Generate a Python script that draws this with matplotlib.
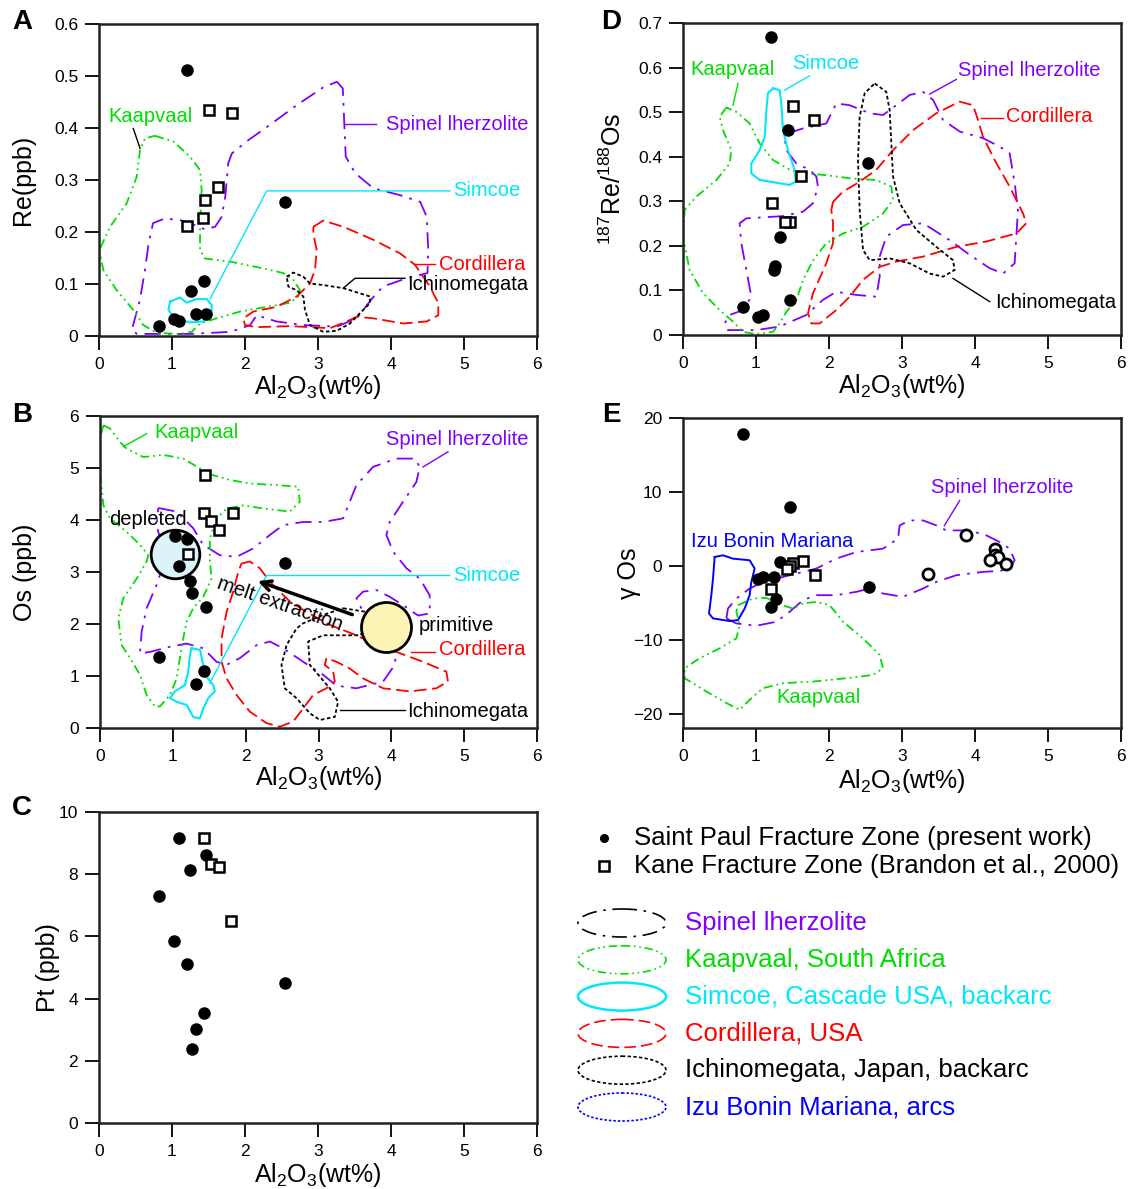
import matplotlib
matplotlib.use('Agg')
import matplotlib.pyplot as plt
from matplotlib.patches import Ellipse

plt.rcParams['font.family'] = ['Liberation Sans', 'DejaVu Sans']
plt.rcParams['mathtext.fontset'] = 'custom'
plt.rcParams['mathtext.rm'] = 'Liberation Sans'
plt.rcParams['mathtext.it'] = 'Liberation Sans:italic'
plt.rcParams['mathtext.bf'] = 'Liberation Sans:bold'

PURPLE = '#8000ff'
GREEN = '#00dd00'
CYAN = '#00e8f8'
RED = '#ff0000'
BLUE = '#0000ff'

LS_SPINEL = (0, (9, 4, 1.5, 4))
LS_KAAP = (0, (5, 2.2, 1, 2.2, 1, 2.2))
LS_CORD = (0, (7, 3))
LS_ICHI = (0, (2, 1.4))

# ---------------- panel A : Re (ppb) vs Al2O3
a_stp_al = [1.205, 2.55, 1.44, 1.26, 1.33, 1.47, 1.03, 1.10, 0.82]
a_stp_re = [0.511, 0.258, 0.106, 0.087, 0.042, 0.042, 0.032, 0.028, 0.020]
a_kane_al = [1.51, 1.82, 1.63, 1.45, 1.43, 1.21]
a_kane_re = [0.435, 0.428, 0.287, 0.262, 0.226, 0.212]

a_spinel = [(3.26, 0.489), (3.34, 0.476), (3.36, 0.409), (3.38, 0.345), (3.51, 0.313),
            (3.76, 0.284), (4.12, 0.271), (4.40, 0.258), (4.49, 0.229), (4.51, 0.165),
            (4.50, 0.121), (4.21, 0.111), (3.89, 0.095), (3.74, 0.072), (3.53, 0.034),
            (3.26, 0.018), (2.80, 0.021), (2.43, 0.028), (2.16, 0.040), (2.07, 0.021),
            (1.80, 0.008), (1.25, 0.004), (0.52, 0.004), (0.45, 0.012), (0.56, 0.069),
            (0.63, 0.127), (0.68, 0.178), (0.74, 0.217), (0.90, 0.226), (1.11, 0.223),
            (1.34, 0.212), (1.45, 0.205), (1.59, 0.210), (1.68, 0.229), (1.73, 0.268),
            (1.77, 0.332), (1.82, 0.351), (2.02, 0.374), (2.34, 0.406), (2.71, 0.444),
            (3.07, 0.478)]
a_kaapvaal = [(0.767, 0.385), (1.018, 0.374), (1.247, 0.345), (1.384, 0.319), (1.406, 0.281),
              (1.384, 0.210), (1.384, 0.165), (1.452, 0.149), (1.795, 0.143), (2.251, 0.130),
              (2.525, 0.121), (2.662, 0.108), (2.753, 0.088), (2.731, 0.076), (2.616, 0.064),
              (2.297, 0.056), (1.932, 0.047), (1.612, 0.034), (1.384, 0.024), (1.269, 0.008),
              (1.110, 0.004), (0.790, 0.006), (0.607, 0.021), (0.470, 0.050), (0.242, 0.088),
              (0.059, 0.127), (0.005, 0.165), (0.151, 0.210), (0.379, 0.255), (0.516, 0.306),
              (0.562, 0.358), (0.630, 0.380)]
a_simcoe = [(0.973, 0.066), (1.110, 0.074), (1.201, 0.064), (1.338, 0.071), (1.475, 0.071),
            (1.543, 0.060), (1.543, 0.040), (1.429, 0.028), (1.247, 0.026), (1.041, 0.034),
            (0.950, 0.050)]
a_cordillera = [(2.936, 0.210), (3.073, 0.222), (3.347, 0.210), (3.758, 0.185), (4.123, 0.159),
                (4.329, 0.137), (4.534, 0.095), (4.648, 0.063), (4.648, 0.040), (4.489, 0.028),
                (4.169, 0.024), (3.758, 0.034), (3.530, 0.037), (3.393, 0.028), (3.164, 0.015),
                (2.616, 0.019), (2.160, 0.017), (2.000, 0.021), (1.977, 0.034), (2.114, 0.047),
                (2.434, 0.056), (2.708, 0.076), (2.890, 0.101), (2.959, 0.127), (2.982, 0.165),
                (2.936, 0.197)]
a_ichino = [(2.571, 0.114), (2.662, 0.122), (2.799, 0.114), (2.890, 0.101), (3.073, 0.098),
            (3.347, 0.092), (3.712, 0.076), (3.712, 0.063), (3.575, 0.044), (3.438, 0.024),
            (3.256, 0.010), (3.073, 0.008), (2.890, 0.021), (2.822, 0.050), (2.799, 0.076),
            (2.708, 0.088), (2.594, 0.095)]

# ---------------- panel D : 187Re/188Os vs Al2O3
d_stp_al = [1.20, 1.44, 2.54, 1.33, 1.26, 1.25, 1.47, 0.82, 1.10, 1.03]
d_stp_ratio = [0.670, 0.460, 0.387, 0.220, 0.156, 0.147, 0.079, 0.064, 0.045, 0.040]
d_kane_al = [1.51, 1.80, 1.62, 1.22, 1.46, 1.40]
d_kane_ratio = [0.514, 0.482, 0.357, 0.297, 0.254, 0.254]

d_spinel = [(1.438, 0.453), (1.644, 0.464), (1.963, 0.475), (2.032, 0.498), (2.100, 0.520),
            (2.283, 0.516), (2.557, 0.498), (2.740, 0.494), (2.922, 0.516), (3.105, 0.539),
            (3.288, 0.546), (3.425, 0.528), (3.562, 0.483), (3.790, 0.457), (4.110, 0.442),
            (4.338, 0.423), (4.475, 0.408), (4.543, 0.341), (4.589, 0.281), (4.566, 0.221),
            (4.543, 0.161), (4.384, 0.138), (4.201, 0.150), (3.927, 0.180), (3.653, 0.213),
            (3.288, 0.251), (3.014, 0.247), (2.785, 0.221), (2.694, 0.176), (2.694, 0.131),
            (2.648, 0.086), (2.374, 0.090), (2.100, 0.097), (1.918, 0.079), (1.689, 0.045),
            (1.324, 0.019), (1.005, 0.011), (0.616, 0.011), (0.571, 0.026), (0.639, 0.045),
            (0.822, 0.056), (0.936, 0.086), (0.868, 0.146), (0.799, 0.206), (0.776, 0.251),
            (0.868, 0.262), (1.370, 0.267), (1.644, 0.277), (1.781, 0.296), (1.849, 0.333),
            (1.826, 0.356), (1.735, 0.371), (1.553, 0.385), (1.416, 0.415), (1.393, 0.442)]
d_kaapvaal = [(0.594, 0.511), (0.502, 0.490), (0.548, 0.460), (0.662, 0.415), (0.639, 0.385),
              (0.457, 0.348), (0.183, 0.311), (0.023, 0.281), (0.0, 0.221), (0.091, 0.146),
              (0.274, 0.094), (0.502, 0.056), (0.685, 0.030), (0.822, 0.007), (1.005, 0.002),
              (1.233, 0.007), (1.324, 0.026), (1.416, 0.052), (1.553, 0.079), (1.644, 0.123),
              (1.781, 0.168), (1.963, 0.206), (2.192, 0.228), (2.466, 0.243), (2.740, 0.273),
              (2.877, 0.303), (2.854, 0.333), (2.648, 0.348), (2.283, 0.352), (1.963, 0.359),
              (1.644, 0.363), (1.461, 0.371), (1.233, 0.393), (1.050, 0.430), (0.913, 0.475),
              (0.731, 0.501)]
d_simcoe = [(1.233, 0.554), (1.324, 0.550), (1.347, 0.520), (1.370, 0.460), (1.438, 0.415),
            (1.530, 0.370), (1.543, 0.344), (1.461, 0.337), (1.279, 0.342), (1.050, 0.348),
            (0.936, 0.363), (0.936, 0.385), (1.050, 0.415), (1.119, 0.445), (1.142, 0.505),
            (1.164, 0.543)]
d_cordillera = [(2.055, 0.299), (2.192, 0.322), (2.420, 0.344), (2.648, 0.371), (2.877, 0.415),
                (3.151, 0.460), (3.470, 0.498), (3.790, 0.524), (3.973, 0.516), (4.041, 0.483),
                (4.110, 0.445), (4.269, 0.393), (4.475, 0.333), (4.658, 0.273), (4.703, 0.251),
                (4.566, 0.228), (4.155, 0.210), (3.744, 0.198), (3.288, 0.176), (2.922, 0.165),
                (2.694, 0.153), (2.466, 0.124), (2.283, 0.086), (2.100, 0.056), (1.872, 0.026),
                (1.758, 0.026), (1.712, 0.049), (1.781, 0.094), (1.963, 0.161), (2.055, 0.206),
                (2.055, 0.251), (2.032, 0.281)]
d_ichino = [(2.626, 0.565), (2.785, 0.546), (2.831, 0.505), (2.854, 0.430), (2.877, 0.356),
            (2.968, 0.296), (3.196, 0.236), (3.470, 0.198), (3.699, 0.168), (3.721, 0.146),
            (3.562, 0.131), (3.379, 0.138), (3.105, 0.161), (2.831, 0.172), (2.557, 0.168),
            (2.466, 0.191), (2.420, 0.281), (2.397, 0.393), (2.420, 0.490), (2.489, 0.543)]

# ---------------- panel B : Os (ppb) vs Al2O3
b_stp_al = [1.03, 1.19, 1.08, 1.23, 1.26, 1.45, 2.54, 0.805, 1.43, 1.32]
b_stp_os = [3.70, 3.65, 3.12, 2.84, 2.60, 2.33, 3.19, 1.37, 1.11, 0.85]
b_kane_al = [1.445, 1.43, 1.82, 1.52, 1.64, 1.21]
b_kane_os = [4.87, 4.15, 4.15, 3.99, 3.81, 3.35]
b_depleted = (1.03, 3.35)
b_primitive = (3.93, 1.95)

b_kaapvaal = [(0.046, 5.83), (0.137, 5.77), (0.274, 5.51), (0.366, 5.38), (0.594, 5.22),
              (0.869, 5.26), (1.143, 5.19), (1.372, 5.00), (1.555, 4.87), (1.783, 4.78),
              (2.058, 4.71), (2.423, 4.68), (2.721, 4.65), (2.743, 4.36), (2.606, 4.17),
              (2.240, 4.23), (1.966, 4.29), (1.738, 4.23), (1.600, 4.04), (1.509, 3.65),
              (1.509, 3.21), (1.532, 2.88), (1.417, 2.53), (1.280, 2.31), (1.189, 2.05),
              (1.143, 1.73), (1.097, 1.35), (1.052, 0.96), (0.960, 0.64), (0.823, 0.42),
              (0.754, 0.42), (0.640, 0.64), (0.549, 1.03), (0.412, 1.35), (0.297, 1.60),
              (0.251, 2.12), (0.320, 2.50), (0.503, 2.88), (0.640, 3.21), (0.663, 3.33),
              (0.549, 3.53), (0.366, 3.78), (0.137, 4.04), (0.046, 4.29), (0.0, 4.94),
              (0.0, 5.58)]
b_spinel = [(0.800, 4.24), (1.052, 4.17), (1.280, 3.85), (1.417, 3.53), (1.646, 3.33),
            (1.875, 3.30), (2.103, 3.46), (2.332, 3.72), (2.515, 3.91), (2.789, 3.97),
            (3.064, 3.97), (3.338, 4.04), (3.429, 4.36), (3.521, 4.68), (3.749, 5.03),
            (4.069, 5.19), (4.321, 5.19), (4.390, 5.03), (4.344, 4.74), (4.161, 4.36),
            (3.978, 3.97), (3.932, 3.72), (4.024, 3.40), (4.207, 3.08), (4.390, 2.88),
            (4.527, 2.56), (4.527, 2.21), (4.367, 2.17), (4.161, 2.37), (3.978, 2.53),
            (3.795, 2.66), (3.612, 2.63), (3.521, 2.50), (3.612, 2.24), (3.749, 1.99),
            (3.887, 1.73), (4.069, 1.54), (4.047, 1.22), (3.887, 0.90), (3.521, 0.77),
            (3.246, 0.82), (3.064, 1.03), (2.789, 1.28), (2.515, 1.54), (2.332, 1.67),
            (2.149, 1.60), (1.920, 1.35), (1.738, 1.22), (1.600, 1.28), (1.417, 1.54),
            (1.189, 1.63), (0.960, 1.57), (0.686, 1.47), (0.549, 1.44), (0.572, 1.86),
            (0.640, 2.31), (0.777, 2.76), (0.869, 3.14), (0.846, 3.53), (0.777, 3.91)]
b_simcoe = [(1.257, 1.54), (1.372, 1.51), (1.417, 1.22), (1.440, 1.03), (1.555, 0.83),
            (1.577, 0.71), (1.486, 0.58), (1.417, 0.38), (1.372, 0.19), (1.280, 0.22),
            (1.189, 0.45), (1.052, 0.51), (0.960, 0.58), (1.029, 0.71), (1.166, 0.83),
            (1.212, 1.09), (1.235, 1.41)]
b_cordillera = [(1.943, 3.17), (2.058, 3.21), (2.195, 3.08), (2.332, 2.82), (2.469, 2.63),
                (2.606, 2.44), (2.835, 2.24), (3.155, 1.99), (3.521, 1.79), (3.749, 1.63),
                (4.069, 1.47), (4.435, 1.28), (4.755, 1.09), (4.778, 0.90), (4.618, 0.77),
                (4.252, 0.71), (3.887, 0.77), (3.612, 0.96), (3.429, 1.15), (3.246, 1.28),
                (3.109, 1.35), (3.086, 1.22), (3.201, 1.09), (3.224, 0.90), (3.109, 0.77),
                (2.926, 0.64), (2.789, 0.38), (2.652, 0.13), (2.469, 0.03), (2.286, 0.10),
                (2.058, 0.32), (1.875, 0.64), (1.738, 0.96), (1.669, 1.28), (1.669, 1.73),
                (1.738, 2.24), (1.829, 2.63), (1.898, 3.01)]
b_ichino = [(3.338, 2.31), (3.658, 2.24), (3.727, 1.96), (3.566, 1.79), (3.064, 1.79),
            (2.858, 1.67), (2.881, 1.22), (3.155, 0.77), (3.269, 0.51), (3.224, 0.22),
            (3.018, 0.16), (2.881, 0.29), (2.698, 0.58), (2.538, 0.77), (2.492, 1.22),
            (2.561, 1.60), (2.698, 1.92), (2.789, 2.02), (3.064, 2.18)]

# ---------------- panel E : gamma Os vs Al2O3
e_stp_al = [0.82, 1.47, 1.33, 1.25, 1.10, 1.03, 1.27, 1.20, 2.55]
e_stp_gos = [17.8, 7.95, 0.54, -1.6, -1.5, -1.85, -4.45, -5.6, -2.9]
e_kane_al = [1.64, 1.51, 1.47, 1.43, 1.81, 1.205]
e_kane_gos = [0.67, 0.3, -0.1, -0.5, -1.3, -3.2]
e_lherz_al = [3.88, 3.35, 4.27, 4.27, 4.32, 4.21, 4.42]
e_lherz_gos = [4.2, -1.2, 2.2, 1.5, 1.1, 0.7, 0.2]

e_spinel = [(0.594, -7.14), (0.731, -7.82), (1.005, -8.13), (1.279, -7.59), (1.461, -6.24),
            (1.644, -4.67), (1.826, -4.00), (2.100, -4.00), (2.374, -3.55), (2.557, -3.10),
            (2.740, -3.77), (3.014, -4.22), (3.288, -3.10), (3.470, -2.20), (3.744, -1.30),
            (4.110, -0.85), (4.338, -0.72), (4.475, -0.40), (4.543, 0.72), (4.475, 2.29),
            (4.338, 3.19), (4.110, 4.31), (3.836, 4.76), (3.607, 4.76), (3.470, 5.44),
            (3.288, 6.11), (3.105, 6.11), (2.968, 5.44), (2.945, 3.64), (2.740, 2.29),
            (2.374, 1.84), (2.100, 0.94), (1.826, -0.40), (1.553, -1.08), (1.279, -1.75),
            (1.050, -2.43), (0.913, -3.10), (0.731, -4.45), (0.616, -5.80)]
e_kaapvaal = [(0.753, -5.35), (0.959, -4.45), (1.142, -4.36), (1.324, -5.26), (1.507, -5.80),
              (1.644, -5.12), (1.826, -4.90), (2.009, -5.35), (2.192, -7.59), (2.466, -9.84),
              (2.694, -12.08), (2.740, -13.88), (2.603, -14.78), (2.237, -15.23), (1.781, -15.68),
              (1.370, -15.90), (1.096, -16.58), (0.913, -18.15), (0.776, -19.50), (0.639, -18.82),
              (0.320, -17.03), (0.023, -15.23), (0.023, -13.88), (0.228, -12.53), (0.502, -11.19),
              (0.731, -9.84), (0.776, -8.04), (0.731, -6.24)]
e_izu = [(0.434, 1.17), (0.548, 1.39), (0.685, 0.94), (0.913, 0.72), (0.982, -0.40),
         (0.936, -2.20), (0.913, -4.00), (0.845, -5.80), (0.753, -7.37), (0.639, -7.50),
         (0.411, -7.14), (0.356, -6.47), (0.388, -4.00), (0.411, -1.75)]

# ---------------- panel C : Pt (ppb) vs Al2O3
c_stp_al = [1.10, 1.47, 1.25, 0.82, 1.03, 1.20, 2.55, 1.44, 1.33, 1.27]
c_stp_pt = [9.14, 8.61, 8.13, 7.29, 5.85, 5.10, 4.51, 3.55, 3.04, 2.39]
c_kane_al = [1.44, 1.54, 1.64, 1.81]
c_kane_pt = [9.14, 8.32, 8.24, 6.49]

x_ticks = [0, 1, 2, 3, 4, 5, 6]
a_yticks = [0, 0.1, 0.2, 0.3, 0.4, 0.5, 0.6]
a_yticklabels = ['0', '0.1', '0.2', '0.3', '0.4', '0.5', '0.6']
d_yticks = [0, 0.1, 0.2, 0.3, 0.4, 0.5, 0.6, 0.7]
d_yticklabels = ['0', '0.1', '0.2', '0.3', '0.4', '0.5', '0.6', '0.7']
b_yticks = [0, 1, 2, 3, 4, 5, 6]
e_yticks = [-20, -10, 0, 10, 20]
c_yticks = [0, 2, 4, 6, 8, 10]

legend_names = ['Spinel lherzolite', 'Kaapvaal, South Africa', 'Simcoe, Cascade USA, backarc',
                'Cordillera, USA', 'Ichinomegata, Japan, backarc', 'Izu Bonin Mariana, arcs']
legend_text_colors = [PURPLE, GREEN, CYAN, RED, 'black', BLUE]
legend_line_colors = ['black', GREEN, CYAN, RED, 'black', BLUE]
legend_styles = [LS_SPINEL, LS_KAAP, '-', LS_CORD, LS_ICHI, (0, (1.5, 1.2))]

W, H = 1130, 1189
fig = plt.figure(figsize=(W / 100, H / 100), dpi=100)

XLABEL = r'Al$_2$O$_3$(wt%)'
TXT = 14.5


def make_axes(left, top, right, bottom):
    ax = fig.add_axes([left / W, 1 - bottom / H, (right - left) / W, (bottom - top) / H])
    for s in ax.spines.values():
        s.set_linewidth(1.8)
        s.set_color('#222222')
    ax.tick_params(direction='out', length=10, width=1.3, labelsize=12.5, pad=5,
                   top=False, right=False)
    ax.set_xlim(0, 6)
    ax.set_xticks(x_ticks)
    return ax


def outline(ax, pts, color, ls, lw=1.3):
    xs = [p[0] for p in pts] + [pts[0][0]]
    ys = [p[1] for p in pts] + [pts[0][1]]
    ax.plot(xs, ys, color=color, ls=ls, lw=lw, zorder=2)


def points(ax, xf, yf, xs, ys):
    ax.plot(xf, yf, 'o', color='black', ms=8, zorder=4, ls='none')
    ax.plot(xs, ys, 's', mfc='white', mec='black', ms=7.5, mew=1.8, zorder=4, ls='none')


def leader(ax, xs, ys, color):
    ax.plot(xs, ys, color=color, lw=1.0, zorder=3)


# ---- A
axA = make_axes(99, 24, 537, 336)
axA.set_ylim(0, 0.6)
axA.set_yticks(a_yticks)
axA.set_yticklabels(a_yticklabels)
outline(axA, a_spinel, PURPLE, LS_SPINEL)
outline(axA, a_kaapvaal, GREEN, LS_KAAP)
outline(axA, a_simcoe, CYAN, '-', 1.5)
outline(axA, a_cordillera, RED, LS_CORD)
outline(axA, a_ichino, 'black', LS_ICHI)
points(axA, a_stp_al, a_stp_re, a_kane_al, a_kane_re)
leader(axA, [0.47, 0.562], [0.399, 0.361], 'black')
axA.text(0.13, 0.422, 'Kaapvaal', color=GREEN, fontsize=TXT, va='center')
leader(axA, [3.35, 3.80], [0.407, 0.407], PURPLE)
axA.text(3.93, 0.407, 'Spinel lherzolite', color=PURPLE, fontsize=TXT, va='center')
leader(axA, [1.52, 2.297, 4.808], [0.071, 0.279, 0.279], CYAN)
axA.text(4.85, 0.279, 'Simcoe', color=CYAN, fontsize=TXT, va='center')
leader(axA, [4.31, 4.60], [0.138, 0.138], RED)
axA.text(4.66, 0.138, 'Cordillera', color=RED, fontsize=TXT, va='center')
leader(axA, [3.347, 3.507, 4.192], [0.092, 0.111, 0.111], 'black')
axA.text(4.22, 0.10, 'Ichinomegata', color='black', fontsize=TXT, va='center')
axA.set_ylabel('Re(ppb)', fontsize=18)
axA.yaxis.set_label_coords(-0.145, 0.5)
axA.set_xlabel(XLABEL, fontsize=18)
axA.xaxis.set_label_coords(0.5, -0.12)

# ---- D
axD = make_axes(683, 23.3, 1121, 335)
axD.set_ylim(0, 0.7)
axD.set_yticks(d_yticks)
axD.set_yticklabels(d_yticklabels)
outline(axD, d_spinel, PURPLE, LS_SPINEL)
outline(axD, d_kaapvaal, GREEN, LS_KAAP)
outline(axD, d_simcoe, CYAN, '-', 1.5)
outline(axD, d_cordillera, RED, LS_CORD)
outline(axD, d_ichino, 'black', LS_ICHI)
points(axD, d_stp_al, d_stp_ratio, d_kane_al, d_kane_ratio)
leader(axD, [0.753, 0.685], [0.565, 0.516], GREEN)
axD.text(0.68, 0.597, 'Kaapvaal', color=GREEN, fontsize=TXT, va='center', ha='center')
leader(axD, [1.393, 1.735], [0.550, 0.582], CYAN)
axD.text(1.95, 0.610, 'Simcoe', color=CYAN, fontsize=TXT, va='center', ha='center')
leader(axD, [3.379, 3.744], [0.541, 0.574], PURPLE)
axD.text(3.77, 0.595, 'Spinel lherzolite', color=PURPLE, fontsize=TXT, va='center')
leader(axD, [4.087, 4.384], [0.487, 0.487], RED)
axD.text(4.42, 0.490, 'Cordillera', color=RED, fontsize=TXT, va='center')
leader(axD, [3.699, 4.201], [0.127, 0.075], 'black')
axD.text(4.27, 0.074, 'Ichinomegata', color='black', fontsize=TXT, va='center')
axD.set_ylabel(r'$^{187}$Re/$^{188}$Os', fontsize=18)
axD.yaxis.set_label_coords(-0.13, 0.5)
axD.set_xlabel(XLABEL, fontsize=18)
axD.xaxis.set_label_coords(0.5, -0.12)

# ---- B
axB = make_axes(100, 416.5, 537, 728.3)
axB.set_ylim(0, 6)
axB.set_yticks(b_yticks)
outline(axB, b_spinel, PURPLE, LS_SPINEL)
outline(axB, b_kaapvaal, GREEN, LS_KAAP)
outline(axB, b_simcoe, CYAN, '-', 1.5)
outline(axB, b_cordillera, RED, LS_CORD)
outline(axB, b_ichino, 'black', LS_ICHI)
axB.plot(*b_depleted, 'o', ms=35, mfc='#dcf3fa', mec='black', mew=2, zorder=3)
axB.plot(*b_primitive, 'o', ms=36, mfc='#fcf3b4', mec='black', mew=2, zorder=3)
points(axB, b_stp_al, b_stp_os, b_kane_al, b_kane_os)
axB.annotate('', xy=(2.13, 2.85), xytext=(3.50, 2.17),
             arrowprops=dict(arrowstyle='->,head_length=0.7,head_width=0.35', lw=2.5,
                             color='black'), zorder=5)
axB.text(2.47, 2.38, 'melt extraction', rotation=-19, fontsize=TXT, ha='center', va='center',
         zorder=5)
axB.text(0.13, 4.02, 'depleted', fontsize=TXT, va='center')
axB.text(4.38, 1.98, 'primitive', fontsize=TXT, va='center')
leader(axB, [0.32, 0.64], [5.42, 5.67], GREEN)
axB.text(0.74, 5.70, 'Kaapvaal', color=GREEN, fontsize=TXT, va='center')
leader(axB, [4.435, 4.778], [5.03, 5.32], PURPLE)
axB.text(3.93, 5.56, 'Spinel lherzolite', color=PURPLE, fontsize=TXT, va='center')
leader(axB, [1.509, 2.286, 4.801], [0.87, 2.94, 2.94], CYAN)
axB.text(4.85, 2.94, 'Simcoe', color=CYAN, fontsize=TXT, va='center')
leader(axB, [4.275, 4.595], [1.47, 1.47], RED)
axB.text(4.66, 1.51, 'Cordillera', color=RED, fontsize=TXT, va='center')
leader(axB, [3.292, 4.184], [0.35, 0.35], 'black')
axB.text(4.22, 0.33, 'Ichinomegata', color='black', fontsize=TXT, va='center')
axB.set_ylabel('Os (ppb)', fontsize=18)
axB.yaxis.set_label_coords(-0.145, 0.5)
axB.set_xlabel(XLABEL, fontsize=18)
axB.xaxis.set_label_coords(0.5, -0.115)

# ---- E
axE = make_axes(683, 417.7, 1121, 728.3)
axE.set_ylim(-22, 20)
axE.set_yticks(e_yticks)
outline(axE, e_spinel, PURPLE, LS_SPINEL)
outline(axE, e_kaapvaal, GREEN, LS_KAAP)
outline(axE, e_izu, BLUE, '-', 1.4)
points(axE, e_stp_al, e_stp_gos, e_kane_al, e_kane_gos)
axE.plot(e_lherz_al, e_lherz_gos, 'o', mfc='white', mec='black', ms=8, mew=2, ls='none', zorder=4)
leader(axE, [3.79, 3.58], [8.8, 5.4], PURPLE)
axE.text(3.40, 10.6, 'Spinel lherzolite', color=PURPLE, fontsize=TXT, va='center')
axE.text(0.11, 3.3, 'Izu Bonin Mariana', color=BLUE, fontsize=TXT, va='center')
axE.text(1.85, -17.8, 'Kaapvaal', color=GREEN, fontsize=TXT, va='center', ha='center')
axE.set_ylabel('γ Os', fontsize=18)
axE.yaxis.set_label_coords(-0.097, 0.5)
axE.set_xlabel(XLABEL, fontsize=18)
axE.xaxis.set_label_coords(0.5, -0.125)

# ---- C
axC = make_axes(99, 811.7, 537, 1123.3)
axC.set_ylim(0, 10)
axC.set_yticks(c_yticks)
points(axC, c_stp_al, c_stp_pt, c_kane_al, c_kane_pt)
axC.set_ylabel('Pt (ppb)', fontsize=18)
axC.yaxis.set_label_coords(-0.088, 0.5)
axC.set_xlabel(XLABEL, fontsize=18)
axC.xaxis.set_label_coords(0.5, -0.122)

# panel letters
for letter, (lx, ly) in zip('ADBEC', [(22, 22), (611, 22), (22, 415), (611, 415), (22, 808)]):
    fig.text(lx / W, 1 - ly / H, letter, fontsize=20, weight='bold', ha='center', va='center')

# ---- legend block (pixel coordinates)
lg = fig.add_axes([0, 0, 1, 1], zorder=-1)
lg.set_xlim(0, W)
lg.set_ylim(H, 0)
lg.axis('off')
lg.plot(604, 838, 'o', color='black', ms=5.5)
lg.text(634, 838, 'Saint Paul Fracture Zone (present work)', fontsize=18.5, va='center')
lg.plot(604, 866, 's', mfc='white', mec='black', ms=6.5, mew=1.8)
lg.text(634, 866, 'Kane Fracture Zone (Brandon et al., 2000)', fontsize=18.5, va='center')
for i, name in enumerate(legend_names):
    yy = 923 + i * 36.8
    lw = 1.8 if legend_styles[i] == '-' else 1.2
    lg.add_patch(Ellipse((622, yy), 88, 28, fill=False, ec=legend_line_colors[i],
                         ls=legend_styles[i], lw=lw))
    lg.text(685, yy, name, color=legend_text_colors[i], fontsize=18.5, va='center')

fig.savefig('out.png', dpi=100)
